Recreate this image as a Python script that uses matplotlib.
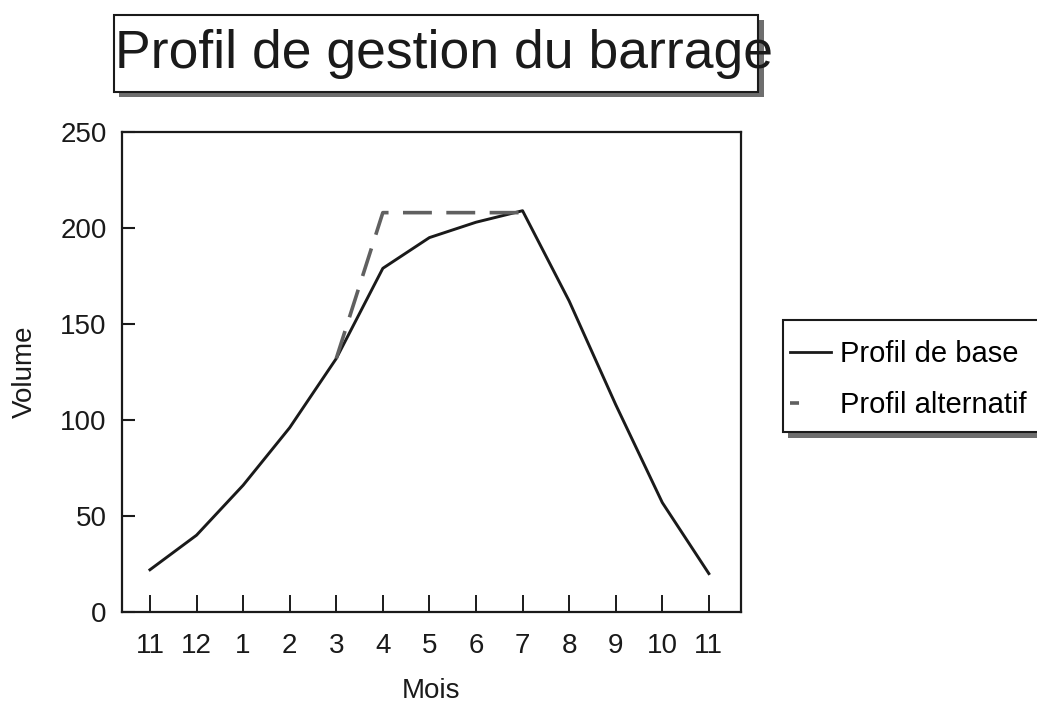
import numpy as np
import matplotlib.pyplot as plt
from matplotlib.patches import Rectangle
from matplotlib.lines import Line2D

plt.rcParams['font.family'] = ['Liberation Sans', 'DejaVu Sans']

# months on the x axis (Nov -> Nov)
mois = ['11', '12', '1', '2', '3', '4', '5', '6', '7', '8', '9', '10', '11']
profil_base = [22, 40, 66, 96, 132, 179, 195, 203, 209, 162, 108, 57, 20]
# alternative profile only drawn where it departs from the base (months 3 -> 7)
alt_mois_idx = [4, 5, 6, 7, 8]
profil_alt = [132, 208, 208, 208, 208]

yticks = [0, 50, 100, 150, 200, 250]

W, H = 1037, 705


def fx(px):
    return px / W


def fy(py):
    return 1 - py / H


fig = plt.figure(figsize=(W / 100, H / 100), dpi=100)
ax = fig.add_axes([fx(122), fy(612), fx(741) - fx(122), fy(132) - fy(612)])

x = np.arange(len(mois))
ax.plot(x, profil_base, color='#1a1a1a', lw=2.1)
ax.plot(alt_mois_idx, profil_alt, color='#606060', lw=2.6, dashes=(8, 4))

ax.set_xlim(-0.6, 12.69)
ax.set_ylim(0, 250)
ax.set_xticks(x)
ax.set_xticklabels(mois)
ax.set_yticks(yticks)

ax.tick_params(axis='x', direction='in', length=12, width=1.4, pad=15,
               labelsize=20, colors='#1a1a1a')
ax.tick_params(axis='y', direction='in', length=9.5, width=1.5, pad=11,
               labelsize=20, colors='#1a1a1a')
for s in ax.spines.values():
    s.set_linewidth(1.6)
    s.set_color('#1a1a1a')

ax.set_xlabel('Mois', fontsize=20, labelpad=14, color='#1a1a1a')
ax.set_ylabel('Volume', fontsize=20, labelpad=16, color='#1a1a1a')

# title in a box with a drop shadow
fig.patches.append(Rectangle((fx(119), fy(97)), fx(764) - fx(119), fy(20) - fy(97),
                             transform=fig.transFigure, facecolor='#6e6e6e',
                             edgecolor='none', zorder=1))
fig.patches.append(Rectangle((fx(114), fy(92)), fx(758) - fx(114), fy(15) - fy(92),
                             transform=fig.transFigure, facecolor='white',
                             edgecolor='#1a1a1a', lw=1.5, zorder=2))
fig.text(fx(115), fy(68), 'Profil de gestion du barrage', fontsize=38.5,
         ha='left', va='baseline', color='#1a1a1a', zorder=3)

# legend box (runs off the right edge) with shadow
fig.patches.append(Rectangle((fx(788), fy(438)), fx(1060) - fx(788), fy(325) - fy(438),
                             transform=fig.transFigure, facecolor='#6e6e6e',
                             edgecolor='none', zorder=1))
fig.patches.append(Rectangle((fx(783), fy(432)), fx(1060) - fx(783), fy(320) - fy(432),
                             transform=fig.transFigure, facecolor='white',
                             edgecolor='#1a1a1a', lw=1.5, zorder=2))

h_base = Line2D([], [], color='#1a1a1a', lw=2.0)
h_alt = Line2D([], [], color='#606060', lw=2.6, dashes=(2.5, 20))
leg = fig.legend([h_base, h_alt], ['Profil de base', 'Profil alternatif'],
                 loc='upper left', bbox_to_anchor=(fx(790), fy(340)),
                 frameon=False, fontsize=21, handlelength=1.4,
                 handletextpad=0.3, labelspacing=0.8, borderaxespad=0,
                 borderpad=0)
leg.set_zorder(5)

fig.savefig('out.png', dpi=100)
